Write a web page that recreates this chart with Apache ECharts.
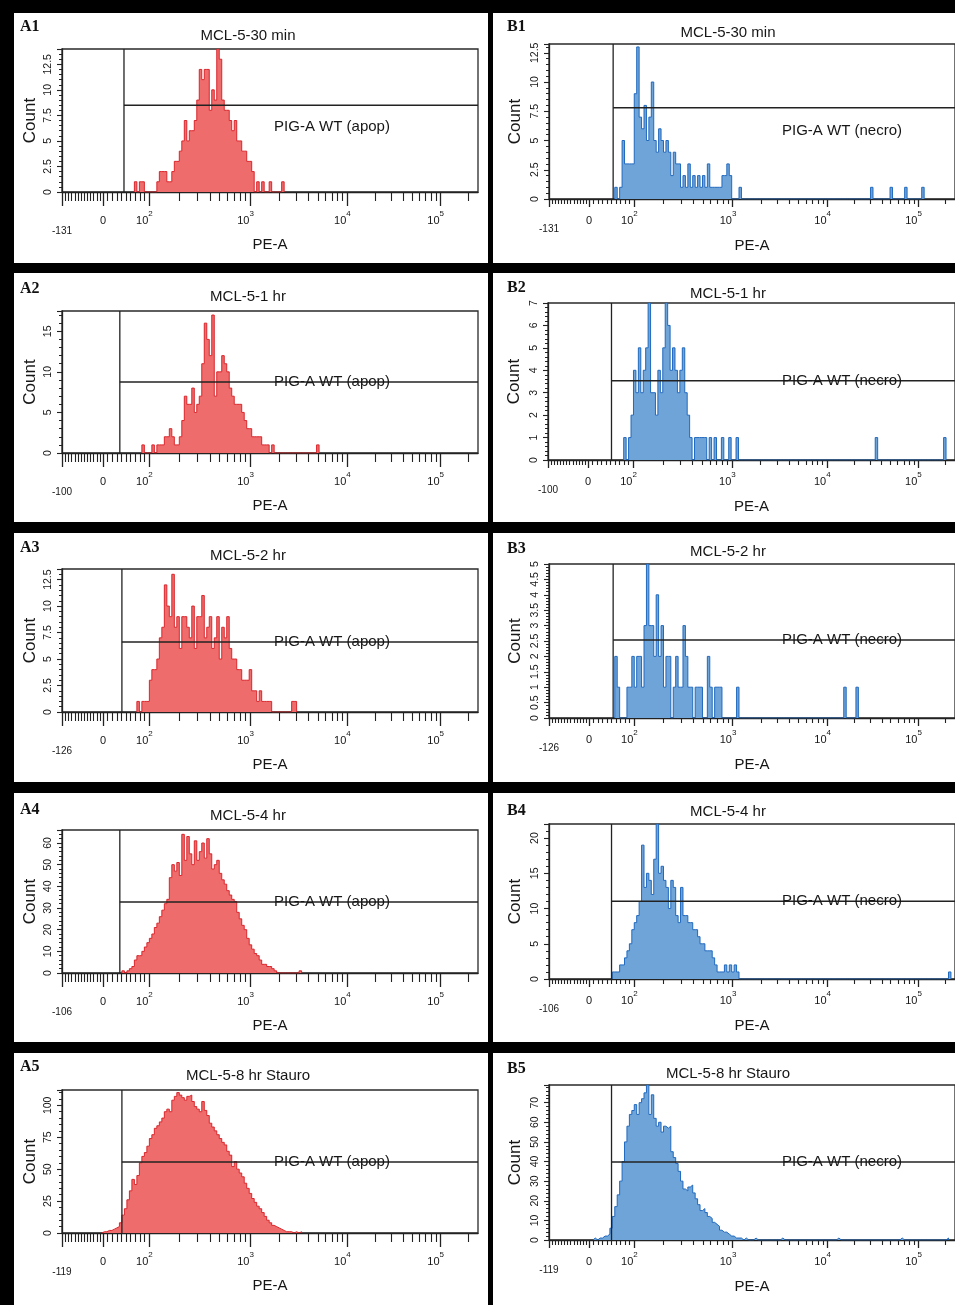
<!DOCTYPE html>
<html>
<head>
<meta charset="utf-8">
<script src="https://cdn.jsdelivr.net/npm/echarts@6/dist/echarts.min.js"></script>
<style>
html,body{margin:0;padding:0;background:#000;}
#c{width:955px;height:1305px;}
</style>
</head>
<body>
<div id="c"></div>
<script>
// ---------------- DATA ----------------
const panelIds   = ['A1','B1','A2','B2','A3','B3','A4','B4','A5','B5'];
const rowTitles  = ['MCL-5-30 min','MCL-5-1 hr','MCL-5-2 hr','MCL-5-4 hr','MCL-5-8 hr Stauro'];
const gateNameA  = 'PIG-A WT (apop)';
const gateNameB  = 'PIG-A WT (necro)';
const negLabels  = ['-131','-100','-126','-106','-119'];   // left end of PE-A axis per row
const yMaxes     = [14, 13.25, 17.5, 7, 13.5, 5, 66, 22, 112, 79];
const yIntervals = [2.5, 2.5, 5, 1, 2.5, 0.5, 10, 5, 25, 10];
const gateX      = [149, 158, 139, 156, 144, 158, 139, 154, 144, 154];   // display channel of gate
const gateY      = [8.5, 7.8, 8.75, 3.53, 6.6, 2.53, 32.8, 11.05, 55.6, 39.7];

// histogram counts per display bin (bin width 6 channels), first bin index, and sparse outliers [bin, count]
const A1_start = 29;
const A1_counts = [1,0,1,1,0,0,0,0,0, 1,2,2,2,1,1,2,3,3,4, 5,7,5,6,6,7,9,12,11,12, 12,8,10,9,14,13,9,8,8,7, 6,7,5,5,4,4,3,3,2,0, 1,0,1,0,0,1,0,0,0,0,1];
const A1_tail = [];
const A2_start = 32;
const A2_counts = [1,0,0,0,1,0,1,1,1,2, 2,3,2,1,1,2,4,7,6,6, 8,5,6,7,11,16,14,12,17,7, 10,10,12,11,10,8,7,6,6,6, 5,4,3,3,2,2,2,2,1,1, 1,0,1];
const A2_tail = [[102,1]];
const A3_start = 30;
const A3_counts = [1,0,1,1,1,3,4,4,5,7, 8,12,10,9,13,8,9,6,9,9, 8,7,10,6,9,9,11,7,8,9, 6,7,9,5,8,7,9,6,5,5, 4,4,3,3,3,4,2,2,1,2, 1,1,1,1];
const A3_tail = [[92,1],[93,1]];
const A4_start = 24;
const A4_counts = [1,0,1,2,3,6,8,8,10,12, 14,16,18,21,23,26,29,32,34,44, 50,47,51,45,64,52,63,55,50,61, 52,56,60,53,62,55,48,50,52,46, 43,41,38,36,34,33,28,25,22,20, 16,13,11,9,8,6,4,4,3,3, 2,1];
const A4_tail = [[95,1]];
const A5_start = 16;
const A5_counts = [1,1,2,2,3,4,5,8,14,19, 26,33,42,38,45,55,60,63,68,74, 77,82,84,87,90,95,97,95,104,107, 110,108,106,104,107,108,103,99,97,95, 103,96,92,86,83,80,77,74,71,69, 64,61,52,56,50,47,44,39,35,31, 27,24,21,19,16,13,10,8,6,5, 4,3,2,1,1,1];
const A5_tail = [[93,1],[95,1]];
const B1_start = 27;
const B1_counts = [1,0,1,5,3,3,3,3,9,13, 7,6,8,5,7,10,5,4,6,5, 4,5,4,2,4,3,3,1,2,1, 3,1,2,1,2,1,2,1,3,1, 1,1,1,1,2,2,3,2,0,0, 0,1];
const B1_tail = [[132,1],[140,1],[146,1],[153,1]];
const B2_start = 31;
const B2_counts = [1,0,1,2,4,3,5,3,4,5, 7,3,3,2,4,3,5,7,6,4, 5,4,3,4,5,3,2,1,0,1, 1,1,1,1,0,1,0,1,0,0, 1,0,0,1,0,0,1];
const B2_tail = [[134,1],[162,1]];
const B3_start = 27;
const B3_counts = [2,1,0,0,0,1,1,2,1,2, 2,1,3,5,3,3,2,4,2,3, 1,2,2,0,1,2,1,1,3,2, 1,1,0,1,1,1,0,0,2,1, 0,1,1,1,0,0,0,0,0,0, 1];
const B3_tail = [[121,1],[126,1]];
const B4_start = 26;
const B4_counts = [1,1,1,2,2,3,4,5,7,8, 9,11,19,13,15,14,12,17,22,15, 16,14,13,10,14,13,9,8,13,9, 9,8,8,7,7,6,5,5,4,4, 4,3,2,1,1,1,2,1,2,1, 2,1];
const B4_tail = [[164,1]];
const B5_start = 18;
const B5_counts = [1,0,1,1,2,2,3,6,12,17, 23,30,40,50,58,64,66,69,64,70, 72,75,79,64,74,62,58,60,55,58, 57,58,45,42,39,35,30,26,25,27, 28,24,21,18,15,16,14,12,11,9, 8,7,5,4,4,3,2,2,1,1, 1,0,1];
const B5_tail = [[84,1],[95,1],[118,1],[144,1],[163,1]];

const histStarts = [A1_start,B1_start,A2_start,B2_start,A3_start,B3_start,A4_start,B4_start,A5_start,B5_start];
const histCounts = [A1_counts,B1_counts,A2_counts,B2_counts,A3_counts,B3_counts,A4_counts,B4_counts,A5_counts,B5_counts];
const histTails  = [A1_tail,B1_tail,A2_tail,B2_tail,A3_tail,B3_tail,A4_tail,B4_tail,A5_tail,B5_tail];

// PE-A display scale (biexponential-like): channel position of value 0 and of decades 10^2..10^6
const BIN = 6;
const ZERO_POS = 98.6;
const DECADE_POS = [209, 452, 685, 909, 1133];
const LABEL_POS = [0, ZERO_POS, 209, 452, 685, 909];

// ---------------- LAYOUT / STYLE ----------------
const FONT = "'Liberation Sans', Arial, Helvetica, sans-serif";
const INK = '#161616';
const RED_LINE = '#d9262c', RED_FILL = '#ef6c6c';
const BLUE_LINE = '#2169bd', BLUE_FILL = '#6fa4d9';

const rowRects = [[13,250],[273,249],[533,249],[793,249],[1053,252]];
const colRects = [[14,474],[493,470]];
const grids = [
  [62,49,416,143],[549,44,410,155],
  [62,311,416,142],[548,303,410,157],
  [62,569,416,143],[549,564,410,154],
  [62,830,416,143],[549,824,410,155],
  [62,1090,416,143],[549,1085,410,155]
];
const letterPos = [[20,27],[507,27],[20,289],[507,288],[20,548],[507,549],[20,810],[507,811],[20,1067],[507,1069]];
const titlePos  = [[248,36],[728,33],[248,297],[728,294],[248,556],[728,552],[248,816],[728,812],[248,1076],[728,1074]];
const gateTextX = [332,842];
const gateTextDy = [22,23,0,0,0,0,0,0,0,0];

function histData(start, counts, tail) {
  const m = new Map();
  counts.forEach((c, k) => m.set(start + k, c));
  tail.forEach(([b, c]) => m.set(b, c));
  const bins = [...m.keys()].sort((a, b) => a - b);
  const first = bins[0], last = bins[bins.length - 1];
  const pts = [[first * BIN, 0]];
  for (let b = first; b <= last; b++) pts.push([b * BIN, m.get(b) || 0]);
  pts.push([(last + 1) * BIN, 0]);
  return pts;
}

function minorTicks() {
  const t = [];
  for (let v = -120; v <= -10; v += 10) t.push(ZERO_POS + v * ZERO_POS / 131);
  for (let v = 10; v <= 90; v += 10) t.push(ZERO_POS + v * (DECADE_POS[0] - ZERO_POS) / 100);
  for (let d = 0; d < 4; d++) {
    for (let m = 2; m <= 9; m++) {
      const p = DECADE_POS[d] + Math.log10(m) * (DECADE_POS[d + 1] - DECADE_POS[d]);
      if (p < 1000) t.push(p);
    }
  }
  return t;
}
const MINOR = minorTicks();
const MAJOR = LABEL_POS.slice();

const option = {
  backgroundColor: '#000',
  animation: false,
  textStyle: { fontFamily: FONT },
  grid: [], xAxis: [], yAxis: [], series: [],
  graphic: { elements: [] }
};

const els = option.graphic.elements;
rowRects.forEach(([y, h]) => colRects.forEach(([x, w]) => {
  els.push({ type: 'rect', silent: true, z: -100, shape: { x: x, y: y, width: w, height: h }, style: { fill: '#fff' } });
}));

panelIds.forEach((id, i) => {
  const isA = id[0] === 'A';
  const row = Math.floor(i / 2);
  const [gl, gt, gw, gh] = grids[i];
  const ymax = yMaxes[i], iv = yIntervals[i];
  option.grid.push({ left: gl, top: gt, width: gw, height: gh, show: true, borderColor: '#2a2a2a', borderWidth: 1.3, backgroundColor: 'transparent' });

  const neg = negLabels[row];
  const rich = {
    b: { fontSize: 11, color: INK, lineHeight: 16, verticalAlign: 'bottom', fontFamily: FONT },
    s: { fontSize: 8, color: INK, lineHeight: 10, verticalAlign: 'top', fontFamily: FONT },
    sp: { width: 9 },
    low: { fontSize: 10, color: INK, padding: [isA ? 16 : 14, 0, 0, 0], fontFamily: FONT }
  };
  option.xAxis.push({
    type: 'value', gridIndex: i, min: 0, max: 1000, position: 'bottom',
    axisLine: { show: true, onZero: false, lineStyle: { color: '#222', width: 1.3 } },
    axisTick: { show: true, customValues: MAJOR, length: isA ? 14 : 8, lineStyle: { color: '#222', width: 1.3 } },
    axisLabel: {
      customValues: LABEL_POS, margin: isA ? 18 : 11, rich: rich,
      formatter: function (v) {
        const k = LABEL_POS.findIndex(p => Math.abs(p - v) < 0.5);
        if (k === 0) return '{low|' + neg + '}';
        if (k === 1) return '{b|0}';
        if (k >= 2) return '{b|10}{s|' + k + '}{sp|}';
        return '';
      }
    },
    splitLine: { show: false },
    name: 'PE-A', nameLocation: 'middle', nameGap: isA ? 44 : 39,
    nameTextStyle: { fontSize: 15, color: INK, fontFamily: FONT }
  });
  option.xAxis.push({
    type: 'value', gridIndex: i, min: 0, max: 1000, position: 'bottom',
    axisLine: { show: false, onZero: false },
    axisTick: { show: true, customValues: MINOR, length: isA ? 9 : 5, lineStyle: { color: '#222', width: 1.1 } },
    axisLabel: { show: false }, splitLine: { show: false }
  });
  option.yAxis.push({
    type: 'value', gridIndex: i, min: 0, max: ymax, interval: iv,
    axisLine: { show: true, lineStyle: { color: '#222', width: 1.3 } },
    axisTick: { show: true, length: 5, lineStyle: { color: '#222', width: 1.1 } },
    minorTick: { show: true, splitNumber: 5, length: 3, lineStyle: { color: '#222', width: 1 } },
    axisLabel: {
      rotate: 90, margin: 8, fontSize: 10.5, color: INK,
      formatter: function (v) {
        const r = v / iv;
        return Math.abs(r - Math.round(r)) < 1e-6 ? String(+v.toFixed(2)) : '';
      }
    },
    splitLine: { show: false }, minorSplitLine: { show: false },
    name: 'Count', nameLocation: 'middle', nameGap: isA ? 23 : 25,
    nameTextStyle: { fontSize: 17, color: INK, fontFamily: FONT }
  });

  option.series.push({
    type: 'line', name: id, xAxisIndex: 2 * i, yAxisIndex: i, step: 'end', symbol: 'none',
    data: histData(histStarts[i], histCounts[i], histTails[i]),
    lineStyle: { color: isA ? RED_LINE : BLUE_LINE, width: 1 },
    areaStyle: { color: isA ? RED_FILL : BLUE_FILL, opacity: 1 },
    z: 2
  });
  option.series.push({
    type: 'line', xAxisIndex: 2 * i, yAxisIndex: i, symbol: 'none', silent: true,
    data: [[gateX[i], 0], [gateX[i], ymax]],
    lineStyle: { color: '#222', width: 1.3 }, z: 4
  });
  option.series.push({
    type: 'line', xAxisIndex: 2 * i, yAxisIndex: i, symbol: 'none', silent: true,
    data: [[gateX[i], gateY[i]], [1000, gateY[i]]],
    lineStyle: { color: '#222', width: 1.5 }, z: 4
  });

  // texts
  els.push({ type: 'text', z: 100, silent: true, x: letterPos[i][0], y: letterPos[i][1],
    style: { text: id, fill: '#111', font: 'bold 16px "Liberation Serif", "DejaVu Serif", serif', align: 'left', verticalAlign: 'middle' } });
  els.push({ type: 'text', z: 100, silent: true, x: titlePos[i][0], y: titlePos[i][1],
    style: { text: rowTitles[row], fill: INK, font: '15px ' + FONT, align: 'center', verticalAlign: 'middle' } });
  const lineY = gt + gh * (1 - gateY[i] / ymax);
  els.push({ type: 'text', z: 100, silent: true, x: gateTextX[isA ? 0 : 1], y: lineY + gateTextDy[i],
    style: { text: isA ? gateNameA : gateNameB, fill: INK, font: '15px ' + FONT, align: 'center', verticalAlign: 'middle' } });
});

const chart = echarts.init(document.getElementById('c'), null, { renderer: 'canvas' });
chart.setOption(option);
</script>
</body>
</html>
